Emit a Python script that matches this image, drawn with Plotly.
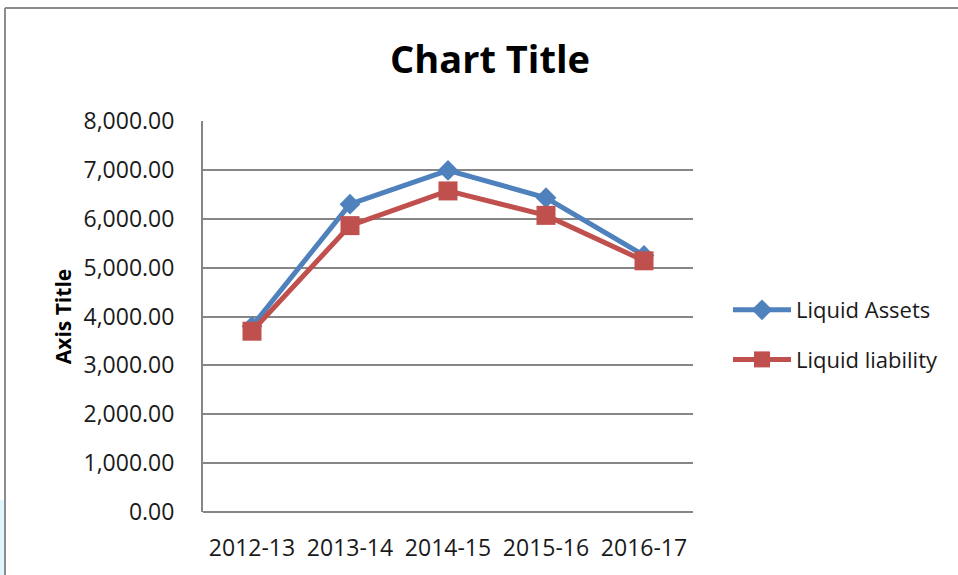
import plotly.graph_objects as go

categories = ["2012-13", "2013-14", "2014-15", "2015-16", "2016-17"]
liquid_assets = [3800, 6300, 6990, 6430, 5250]
liquid_liability = [3700, 5860, 6570, 6070, 5140]
series_names = ["Liquid Assets", "Liquid liability"]

FONT = "Open Sans"
BLUE = "#4F81BD"
RED = "#C0504D"
GRID = "#868686"
TXT = "#1a1a1a"

fig = go.Figure()
fig.add_trace(go.Scatter(
    x=categories, y=liquid_assets, name=series_names[0], mode="lines+markers",
    legendgroup="a",
    line=dict(color=BLUE, width=5),
    marker=dict(symbol="diamond", size=16, color=BLUE),
))
fig.add_trace(go.Scatter(
    x=categories, y=liquid_liability, name=series_names[1], mode="lines+markers",
    legendgroup="b",
    line=dict(color=RED, width=5),
    marker=dict(symbol="square", size=19, color=RED),
))

L, R, T, B = 203, 265, 121, 63
PW, PH = 958 - L - R, 575 - T - B


def px(x):
    return (x - L) / PW


def py(y):
    return (575 - B - y) / PH


fig.update_layout(
    width=958, height=575,
    margin=dict(l=L, r=R, t=T, b=B),
    paper_bgcolor="white", plot_bgcolor="white",
    font=dict(family=FONT, color=TXT, size=22),
    title=dict(text="<b>Chart Title</b>", x=490 / 958, xanchor="center",
               y=1 - 60 / 575, yanchor="middle",
               font=dict(family=FONT, size=38, color="black")),
    showlegend=True,
    legend=dict(x=px(728), y=py(335), xanchor="left", yanchor="middle",
                font=dict(family=FONT, size=22, color=TXT), itemwidth=58,
                bgcolor="rgba(0,0,0,0)", tracegroupgap=18),
    xaxis=dict(
        type="category", range=[-0.5, 4.5], showgrid=False,
        showline=False, ticks="", ticklabelstandoff=20,
        tickfont=dict(family=FONT, size=23, color=TXT),
        zeroline=False,
    ),
    yaxis=dict(
        range=[0, 8001], dtick=1000, tickformat=",.2f",
        showgrid=True, gridcolor=GRID, gridwidth=2,
        showline=True, linecolor=GRID, linewidth=2,
        zeroline=True, zerolinecolor=GRID, zerolinewidth=2,
        ticks="", ticklabelstandoff=22,
        tickfont=dict(family=FONT, size=23, color=TXT),
        title=dict(text="<b>Axis Title</b>", font=dict(family=FONT, size=21, color="black"),
                   standoff=6),
    ),
    shapes=[
        dict(type="line", xref="paper", yref="paper",
             x0=px(5), x1=px(958), y0=py(8), y1=py(8),
             line=dict(color="#8c8c8c", width=2)),
        dict(type="line", xref="paper", yref="paper",
             x0=px(5), x1=px(5), y0=py(8), y1=py(575),
             line=dict(color="#8c8c8c", width=2)),
        dict(type="rect", xref="paper", yref="paper",
             x0=px(0), x1=px(4), y0=py(500), y1=py(575),
             fillcolor="#dff6fb", line=dict(width=0), layer="below"),
    ],
)

fig.write_html("out.html", config={"displayModeBar": False},
               post_script="document.body.style.margin='0';document.body.style.overflow='hidden';")
